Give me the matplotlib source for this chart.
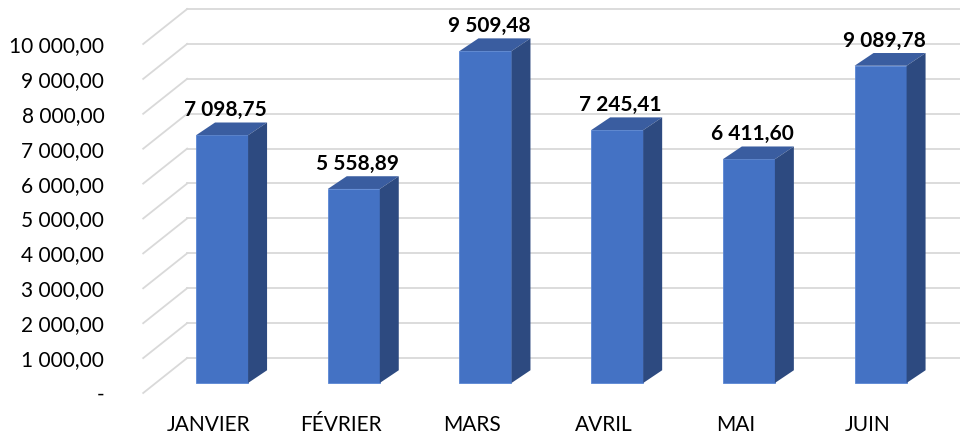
import matplotlib
matplotlib.use("Agg")
import matplotlib.pyplot as plt
from matplotlib.patches import Polygon

# data
months = ["JANVIER", "FÉVRIER", "MARS", "AVRIL", "MAI", "JUIN"]
amounts = [7098.75, 5558.89, 9509.48, 7245.41, 6411.60, 9089.78]
y_ticks = [0, 1000, 2000, 3000, 4000, 5000, 6000, 7000, 8000, 9000, 10000]


def fr_number(v):
    # french style: space for thousands, comma for decimals
    if v == 0:
        return "-"
    return f"{v:,.2f}".replace(",", " ").replace(".", ",")


plt.rcParams["font.family"] = ["Lato", "DejaVu Sans"]

fig = plt.figure(figsize=(9.6, 4.38), dpi=100)
ax = fig.add_axes([143.2 / 960, 45 / 438, 790.2 / 960, 349 / 438])
ax.set_xlim(-0.5, len(months) - 0.5)
ax.set_ylim(0, 10000)

# fake 3d depth offsets (data units)
wall_dx, wall_dy = 0.334, 1003  # back wall
front_dx, front_dy = 0.099, 287  # bar front face
side_dx, side_dy = 0.144, 365  # bar depth
bar_w = 0.395

grid_col = "#d9d9d9"
x_left = -0.5
x_right = len(months) - 0.5

# back wall gridlines and left wall diagonals
for v in y_ticks:
    ax.plot([x_left + wall_dx, x_right + wall_dx], [v + wall_dy, v + wall_dy],
            color=grid_col, lw=1.3, clip_on=False, zorder=1)
    ax.plot([x_left, x_left + wall_dx], [v, v + wall_dy],
            color=grid_col, lw=1.3, clip_on=False, zorder=1)

# bars: front face, top, side
for i, val in enumerate(amounts):
    x0 = i + front_dx - bar_w / 2
    x1 = x0 + bar_w
    b = front_dy
    t = val + front_dy
    ax.add_patch(Polygon([(x0, b), (x1, b), (x1, t), (x0, t)], closed=True,
                         facecolor="#4472C4", edgecolor="#5a86d4", lw=0.6,
                         clip_on=False, zorder=3))
    ax.add_patch(Polygon([(x0, t), (x1, t), (x1 + side_dx, t + side_dy), (x0 + side_dx, t + side_dy)],
                         closed=True, facecolor="#3A5DA0", edgecolor="none",
                         clip_on=False, zorder=3))
    ax.add_patch(Polygon([(x1, b), (x1 + side_dx, b + side_dy), (x1 + side_dx, t + side_dy), (x1, t)],
                         closed=True, facecolor="#2D4A80", edgecolor="none",
                         clip_on=False, zorder=3))
    ax.text(i + front_dx + 0.027, t + 720, fr_number(val), ha="center", va="center",
            fontsize=15, fontweight="bold", color="black", zorder=4, clip_on=False)

# axes labels
ax.set_yticks(y_ticks)
ax.set_yticklabels([fr_number(v) for v in y_ticks])
ax.set_xticks(range(len(months)))
ax.set_xticklabels(months)
ax.tick_params(axis="y", length=0, pad=28, labelsize=15)
ax.tick_params(axis="x", length=0, pad=16, labelsize=15)
for s in ax.spines.values():
    s.set_visible(False)
ax.patch.set_visible(False)

fig.savefig("out.png", dpi=100)
